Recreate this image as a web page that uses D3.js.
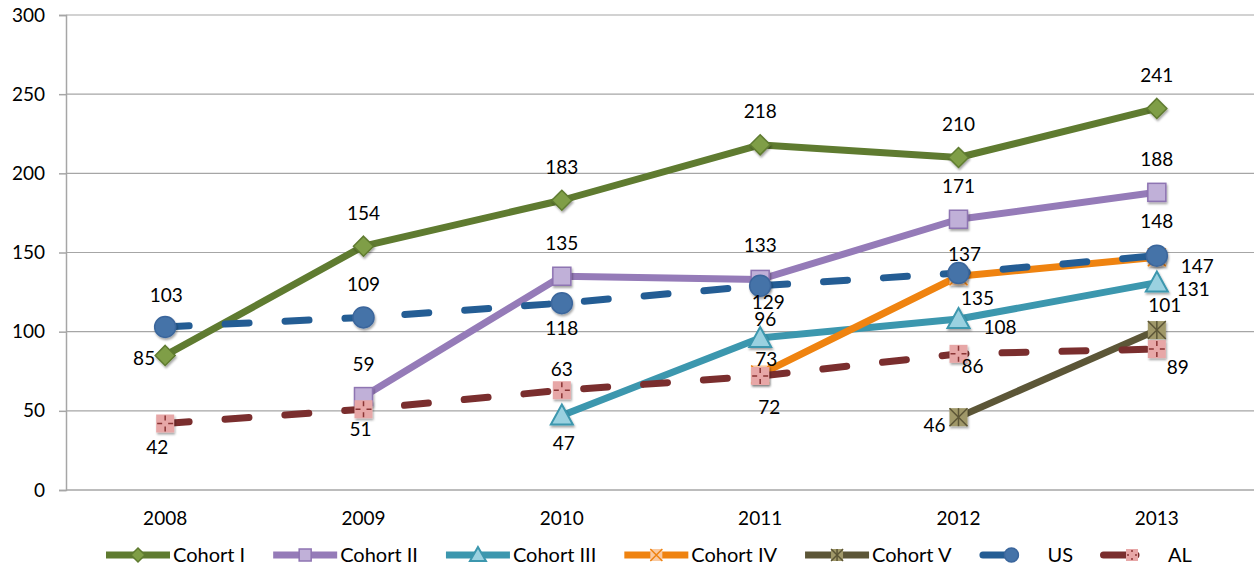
<!DOCTYPE html>
<html><head><meta charset="utf-8">
<script src="https://cdn.jsdelivr.net/npm/d3@7"></script>
<style>
html,body{margin:0;padding:0;background:#fff;}
svg text{font-family:Lato,"Open Sans",sans-serif;fill:#000;}
</style></head>
<body><svg id="c" width="1254" height="567"></svg>
<script>
const years = ["2008","2009","2010","2011","2012","2013"];
const yTicks = [0,50,100,150,200,250,300];
const cohortI   = [85,154,183,218,210,241];
const cohortII  = [null,59,135,133,171,188];
const cohortIII = [null,null,47,96,108,131];
const cohortIV  = [null,null,null,73,135,147];
const cohortV   = [null,null,null,null,46,101];
const usVals    = [103,109,118,129,137,148];
const alVals    = [42,51,63,72,86,89];

// label placement offsets (center dx, dy) relative to point; 'e' anchor end, 's' anchor start
const labI   = [[-10,3,'e'],[0,-33],[0,-33],[0,-33],[0,-33],[0,-33]];
const labII  = [null,[0,-32],[0,-33],[0,-34],[0,-33],[0,-33]];
const labIII = [null,null,[2,28],[5,-19],[25,8,'s'],[20,7,'s']];
const labIV  = [null,null,null,[6,-15],[19,22],[24,9,'s']];
const labV   = [null,null,null,null,[-13,8,'e'],[8,-25]];
const labUS  = [[1,-32],[0,-33],[0,25],[8,17],[6,-19],[0,-34]];
const labAL  = [[-8,24],[-3,20],[0,-21],[9,31],[14,13],[21,18]];

const series = [
  {name:"Cohort I", vals:cohortI, lab:labI, line:"#5F7B30", dash:null, marker:"diamond", fill:"#7F9E46", mstroke:"#5F7B30"},
  {name:"Cohort II", vals:cohortII, lab:labII, line:"#957BB8", dash:null, marker:"square", fill:"#C0B0D8", mstroke:"#8E74B2"},
  {name:"Cohort III", vals:cohortIII, lab:labIII, line:"#3C97AE", dash:null, marker:"triangle", fill:"#9AD1E0", mstroke:"#3C97AE"},
  {name:"Cohort IV", vals:cohortIV, lab:labIV, line:"#EF8310", dash:null, marker:"xsquare", fill:"#F9C9A0", mstroke:"#EF8310"},
  {name:"Cohort V", vals:cohortV, lab:labV, line:"#5C5637", dash:null, marker:"starsquare", fill:"#A09869", mstroke:"#5C5637"},
  {name:"US", vals:usVals, lab:labUS, line:"#245D94", dash:"24,36", marker:"circle", fill:"#4573A8", mstroke:"#3B669C"},
  {name:"AL", vals:alVals, lab:labAL, line:"#7A2E2E", dash:"24,36", marker:"plussquare", fill:"#E7A7A7", mstroke:"#8A3535"}
];

const svg = d3.select("#c");
const defs = svg.append("defs");
const f = defs.append("filter").attr("id","sh").attr("x","-50%").attr("y","-50%").attr("width","200%").attr("height","200%");
f.append("feDropShadow").attr("dx",1).attr("dy",2).attr("stdDeviation",1.3).attr("flood-color","#000").attr("flood-opacity",0.35);

const x = d3.scaleBand().domain(years).range([66,1256]).padding(0);
const y = d3.scaleLinear().domain([0,300]).range([490,15]);
const cx = d => x(d) + x.bandwidth()/2;

// gridlines & y axis
const yAxis = d3.axisLeft(y).tickValues(yTicks).tickSize(7).tickPadding(14);
const gy = svg.append("g").attr("transform","translate(66,0)").call(yAxis);
gy.select(".domain").attr("stroke","#A6A6A6").attr("stroke-width",1.5);
gy.selectAll(".tick line").attr("stroke","#A6A6A6").attr("stroke-width",1.5);
gy.selectAll(".tick text").attr("font-size",19).attr("font-family","Lato,sans-serif").attr("fill","#000");
svg.append("g").selectAll("line").data(yTicks).join("line")
  .attr("x1",66).attr("x2",1254).attr("y1",d=>y(d)).attr("y2",d=>y(d))
  .attr("stroke","#A6A6A6").attr("stroke-width",d=>d===0?1.5:1.2);

const xAxis = d3.axisBottom(x).tickSize(0).tickPadding(22);
const gx = svg.append("g").attr("transform","translate(0,490)").call(xAxis);
gx.select(".domain").remove();
gx.selectAll(".tick text").attr("font-size",19).attr("font-family","Lato,sans-serif").attr("fill","#000");

function drawMarker(g, s, px, py, sz, shadow){
  const h = sz/2;
  const m = g.append("g").attr("transform",`translate(${px},${py})`);
  if(shadow) m.attr("filter","url(#sh)");
  if(s.marker==="diamond"){
    m.append("path").attr("d",`M0,${-h}L${h},0L0,${h}L${-h},0Z`).attr("fill",s.fill).attr("stroke",s.mstroke).attr("stroke-width",1.5);
  } else if(s.marker==="circle"){
    m.append("circle").attr("r",h).attr("fill",s.fill).attr("stroke",s.mstroke).attr("stroke-width",1.5);
  } else if(s.marker==="triangle"){
    m.append("path").attr("d",`M0,${-h-1}L${h+1},${h-1}L${-h-1},${h-1}Z`).attr("fill",s.fill).attr("stroke",s.mstroke).attr("stroke-width",2);
  } else {
    const q = h-1;
    m.append("rect").attr("x",-q).attr("y",-q).attr("width",2*q).attr("height",2*q).attr("fill",s.fill).attr("stroke",s.marker==="square"?s.mstroke:"none").attr("stroke-width",1.5);
    if(s.marker==="xsquare"||s.marker==="starsquare"){
      m.append("path").attr("d",`M${-q},${-q}L${q},${q}M${q},${-q}L${-q},${q}`).attr("stroke",s.mstroke).attr("stroke-width",1.5);
    }
    if(s.marker==="starsquare"){
      m.append("path").attr("d",`M0,${-q}L0,${q}`).attr("stroke",s.mstroke).attr("stroke-width",1.5);
    }
    if(s.marker==="plussquare"){
      m.append("path").attr("d",`M0,${-q+1}L0,-3M0,3L0,${q-1}M${-q+1},0L-3,0M3,0L${q-1},0`).attr("stroke",s.mstroke).attr("stroke-width",1.5);
    }
  }
}

const line = d3.line().defined(d=>d.v!==null).x(d=>cx(d.yr)).y(d=>y(d.v));
series.forEach(s=>{
  const g = svg.append("g");
  const pts = years.map((yr,i)=>({yr, v:s.vals[i]}));
  g.append("path").attr("d",line(pts)).attr("fill","none").attr("stroke",s.line)
    .attr("stroke-width",7).attr("stroke-linecap",s.dash?"round":"butt").attr("stroke-linejoin","round")
    .attr("stroke-dasharray",s.dash);
  pts.forEach(p=>{ if(p.v!==null) drawMarker(g,s,cx(p.yr),y(p.v),s.marker==="circle"?21:20,true); });
});
// labels on top
series.forEach(s=>{
  years.forEach((yr,i)=>{
    const v = s.vals[i]; if(v===null) return;
    const o = s.lab[i];
    const anchor = o[2]==='e'?'end':(o[2]==='s'?'start':'middle');
    svg.append("text").attr("x",cx(yr)+o[0]).attr("y",y(v)+o[1]).attr("dy","0.35em")
      .attr("text-anchor",anchor).attr("font-size",19).text(v);
  });
});

// legend
const lg = svg.append("g").attr("transform","translate(0,555)");
let lx = 106;
series.forEach(s=>{
  const g = lg.append("g").attr("transform",`translate(${lx},0)`);
  if(s.dash){
    g.append("path").attr("d","M3.5,0L36,0").attr("stroke",s.line).attr("stroke-width",7).attr("stroke-linecap","round");
  } else {
    g.append("path").attr("d","M0,0L64,0").attr("stroke",s.line).attr("stroke-width",7);
  }
  drawMarker(g,s,32,0,14,false);
  const t = g.append("text").attr("x",s.dash?68:67).attr("y",0).attr("dy","0.35em").attr("font-size",20).text(s.name);
  const w = t.node().getComputedTextLength();
  lx += 67 + w + 28;
});
</script></body></html>
